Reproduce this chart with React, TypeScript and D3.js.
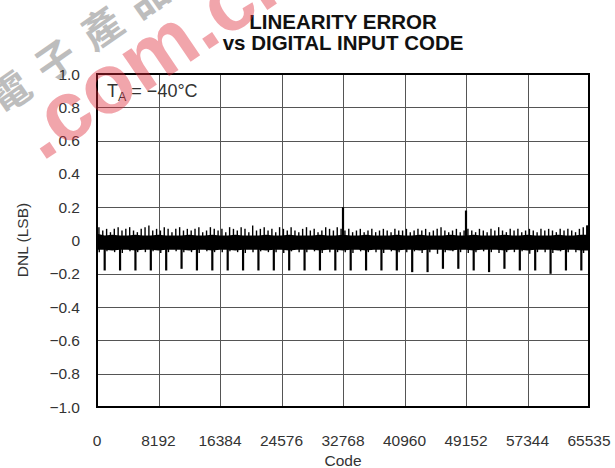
import React from "react";
import * as d3 from "d3";

const xTicks = [0, 8192, 16384, 24576, 32768, 40960, 49152, 57344, 65535];
const yTicks = [-1.0, -0.8, -0.6, -0.4, -0.2, 0, 0.2, 0.4, 0.6, 0.8, 1.0];
const yTickLabels = ["\u22121.0", "\u22120.8", "\u22120.6", "\u22120.4", "\u22120.2", "0", "0.2", "0.4", "0.6", "0.8", "1.0"];

// noise band envelope, sampled every 1024 codes
const bandTop = [
  0.04, 0.03, 0.035, 0.03, 0.03, 0.035, 0.03, 0.03, 0.035, 0.03, 0.03, 0.03, 0.035, 0.03, 0.03, 0.035,
  0.03, 0.03, 0.035, 0.03, 0.03, 0.03, 0.035, 0.03, 0.03, 0.035, 0.03, 0.03, 0.03, 0.035, 0.03, 0.03,
  0.035, 0.03, 0.03, 0.035, 0.03, 0.03, 0.03, 0.035, 0.03, 0.03, 0.035, 0.03, 0.03, 0.03, 0.035, 0.03,
  0.03, 0.035, 0.03, 0.03, 0.03, 0.035, 0.03, 0.03, 0.035, 0.03, 0.03, 0.03, 0.035, 0.03, 0.03, 0.035, 0.035,
];
const bandBottom = [
  -0.055, -0.055, -0.06, -0.055, -0.055, -0.06, -0.055, -0.055, -0.06, -0.055, -0.055, -0.055, -0.06, -0.055, -0.055, -0.06,
  -0.055, -0.055, -0.06, -0.055, -0.055, -0.055, -0.06, -0.055, -0.055, -0.06, -0.055, -0.055, -0.055, -0.06, -0.055, -0.055,
  -0.06, -0.055, -0.055, -0.06, -0.055, -0.055, -0.055, -0.06, -0.055, -0.055, -0.06, -0.055, -0.055, -0.055, -0.06, -0.055,
  -0.055, -0.06, -0.055, -0.055, -0.055, -0.06, -0.055, -0.055, -0.06, -0.055, -0.055, -0.055, -0.06, -0.055, -0.055, -0.06, -0.06,
];

// small upward spikes, one per 512 codes
const upTicks = [
  0.08, 0.06, 0.07, 0.05, 0.07, 0.08, 0.06, 0.07, 0.08, 0.06, 0.05, 0.07, 0.08, 0.09, 0.06, 0.07,
  0.06, 0.08, 0.07, 0.05, 0.07, 0.08, 0.06, 0.07, 0.06, 0.07, 0.08, 0.05, 0.06, 0.08, 0.07, 0.06,
  0.07, 0.05, 0.08, 0.07, 0.06, 0.08, 0.07, 0.05, 0.09, 0.06, 0.07, 0.08, 0.06, 0.07, 0.05, 0.08,
  0.07, 0.06, 0.08, 0.06, 0.05, 0.07, 0.08, 0.06, 0.07, 0.05, 0.06, 0.08, 0.07, 0.06, 0.08, 0.07,
  0.06, 0.07, 0.05, 0.06, 0.07, 0.05, 0.06, 0.07, 0.05, 0.06, 0.07, 0.06, 0.05, 0.07, 0.06, 0.06,
  0.07, 0.05, 0.06, 0.07, 0.06, 0.07, 0.05, 0.06, 0.07, 0.08, 0.06, 0.05, 0.06, 0.07, 0.05, 0.06,
  0.07, 0.06, 0.05, 0.07, 0.06, 0.05, 0.07, 0.06, 0.08, 0.06, 0.05, 0.07, 0.06, 0.07, 0.05, 0.06,
  0.07, 0.06, 0.05, 0.07, 0.06, 0.07, 0.06, 0.05, 0.07, 0.06, 0.07, 0.06, 0.05, 0.07, 0.08, 0.09,
];

// small downward ticks inside the band, one per 1024 codes
const lowTicks = [
  -0.07, -0.065, -0.07, -0.075, -0.065, -0.07, -0.07, -0.065, -0.075, -0.07, -0.065, -0.07, -0.07, -0.075, -0.065, -0.07,
  -0.07, -0.065, -0.07, -0.075, -0.07, -0.065, -0.07, -0.07, -0.075, -0.065, -0.07, -0.07, -0.065, -0.075, -0.07, -0.07,
  -0.07, -0.075, -0.065, -0.07, -0.07, -0.075, -0.065, -0.07, -0.07, -0.065, -0.075, -0.07, -0.08, -0.07, -0.065, -0.07,
  -0.075, -0.07, -0.065, -0.07, -0.075, -0.07, -0.07, -0.065, -0.08, -0.07, -0.07, -0.075, -0.065, -0.07, -0.07, -0.075,
];

// large downward spikes at 1024 + 2048k
const downTicks = [
  -0.18, -0.18, -0.18, -0.18, -0.18, -0.17, -0.18, -0.18, -0.18, -0.18, -0.18, -0.18, -0.18, -0.18, -0.18, -0.18,
  -0.18, -0.18, -0.18, -0.18, -0.19, -0.19, -0.17, -0.17, -0.18, -0.19, -0.17, -0.18, -0.18, -0.2, -0.18, -0.18,
];

const bigSpikeCodes = [32768, 49152, 65300];
const bigSpikeValues = [0.2, 0.18, 0.09];

const W = 615;
const H = 468;
const L = 97, R = 589, T = 74, B = 407;
const FONT = "'Liberation Sans', Arial, Helvetica, sans-serif";

export default function App() {
  const x = d3.scaleLinear().domain([0, 65535]).range([L, R]);
  const y = d3.scaleLinear().domain([-1, 1]).range([B, T]);

  const bandData = bandTop.map((t, i) => ({ c: Math.min(i * 1024, 65535), t, b: bandBottom[i] }));
  const area = d3
    .area<{ c: number; t: number; b: number }>()
    .x((d) => x(d.c))
    .y0((d) => y(d.b))
    .y1((d) => y(d.t));

  return (
    <svg
      width={W}
      height={H}
      style={{ position: "fixed", left: 0, top: 0, background: "#fff" }}
      fontFamily={FONT}
    >
      <rect x={0} y={0} width={W} height={H} fill="#fff" />
      {/* gray watermark characters */}
      <g transform="translate(2,116) rotate(-35)" fill="#bdbdbd">
        <text fontSize={40} fontFamily="'Noto Sans CJK TC', 'Noto Sans CJK SC', sans-serif" fontWeight={700} letterSpacing={16}>
          電子產品
        </text>
      </g>
      {/* title */}
      <g fontWeight={700} fontSize={20.5} textAnchor="middle" fill="#111">
        <text x={343} y={28.5}>LINEARITY ERROR</text>
        <text x={343} y={49.5}>vs DIGITAL INPUT CODE</text>
      </g>
      {/* grid */}
      <g stroke="#555" strokeWidth={1}>
        {xTicks.slice(1, -1).map((c) => (
          <line key={"gx" + c} x1={Math.round(x(c)) + 0.5} x2={Math.round(x(c)) + 0.5} y1={T} y2={B} />
        ))}
        {yTicks.slice(1, -1).map((v) => (
          <line key={"gy" + v} x1={L} x2={R} y1={Math.round(y(v)) + 0.5} y2={Math.round(y(v)) + 0.5} />
        ))}
      </g>
      {/* data */}
      <path d={area(bandData) || ""} fill="#000" />
      <g stroke="#000" strokeWidth={1.4}>
        {upTicks.map((v, i) => (
          <line key={"u" + i} x1={x(i * 512 + 256)} x2={x(i * 512 + 256)} y1={y(0.02)} y2={y(v)} />
        ))}
        {lowTicks.map((v, i) => (
          <line key={"l" + i} x1={x(i * 1024 + 300)} x2={x(i * 1024 + 300)} y1={y(-0.04)} y2={y(v)} />
        ))}
      </g>
      <g stroke="#000" strokeWidth={2.2}>
        {downTicks.map((v, i) => (
          <line key={"d" + i} x1={x(1024 + i * 2048)} x2={x(1024 + i * 2048)} y1={y(-0.04)} y2={y(v)} />
        ))}
        {bigSpikeCodes.map((c, i) => (
          <line key={"b" + i} x1={x(c)} x2={x(c)} y1={y(0)} y2={y(bigSpikeValues[i])} />
        ))}
      </g>
      {/* border */}
      <rect x={L} y={T} width={R - L} height={B - T} fill="none" stroke="#000" strokeWidth={2} />
      {/* annotation */}
      <text x={107} y={97} fontSize={18} fill="#333">
        T<tspan fontSize={12.5} dy={4}>A</tspan>
        <tspan dy={-4}> = {"\u2212"}40°C</tspan>
      </text>
      {/* y tick labels */}
      <g fontSize={15.5} fill="#333" textAnchor="end">
        {yTicks.map((v, i) => (
          <text key={"yl" + v} x={80} y={y(v) + 5.5}>
            {yTickLabels[i]}
          </text>
        ))}
      </g>
      {/* x tick labels */}
      <g fontSize={15.5} fill="#333" textAnchor="middle">
        {xTicks.map((c) => (
          <text key={"xl" + c} x={x(c)} y={446}>
            {c}
          </text>
        ))}
      </g>
      <text x={343} y={466} fontSize={15.5} fill="#333" textAnchor="middle">
        Code
      </text>
      <text
        transform="translate(28,240) rotate(-90)"
        fontSize={15.5}
        fill="#333"
        textAnchor="middle"
      >
        DNL (LSB)
      </text>
      {/* red watermark */}
      <g transform="translate(42,162) rotate(-34)" opacity={0.42}>
        <text fontSize={84} fontWeight={700} fill="#e02a3a" fontFamily={FONT}>
          .com.cn
        </text>
      </g>
    </svg>
  );
}
